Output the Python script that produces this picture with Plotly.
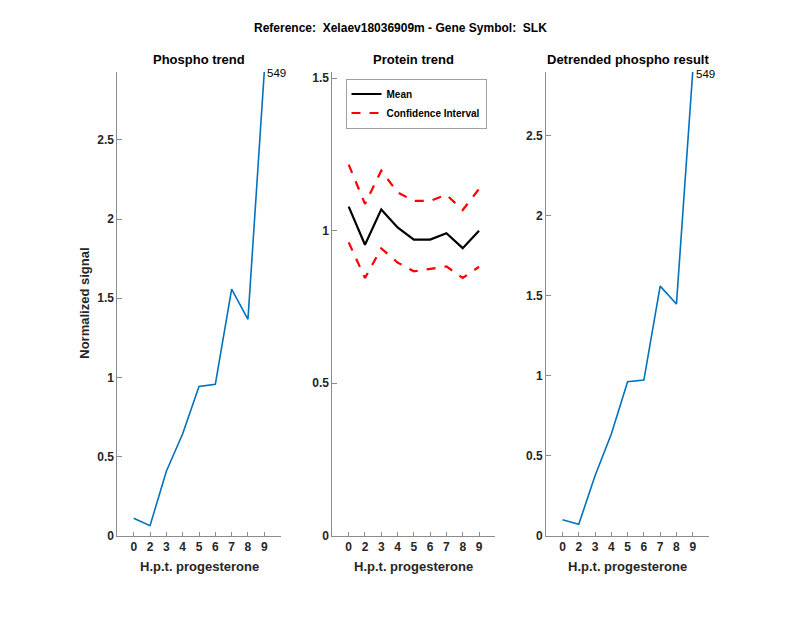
import plotly.graph_objects as go

# ---- data ----
hours = ["0", "2", "3", "4", "5", "6", "7", "8", "9"]
phospho = [0.11, 0.063, 0.407, 0.644, 0.943, 0.956, 1.557, 1.367, 2.93]
protein_mean = [1.079, 0.954, 1.070, 1.011, 0.971, 0.971, 0.992, 0.943, 1.000]
protein_upper = [1.217, 1.088, 1.197, 1.126, 1.098, 1.098, 1.118, 1.068, 1.137]
protein_lower = [0.962, 0.845, 0.942, 0.896, 0.867, 0.874, 0.883, 0.845, 0.882]
detrended = [0.10, 0.071, 0.375, 0.636, 0.963, 0.973, 1.56, 1.448, 2.90]
peptide_label = "549"

main_title = "Reference:  Xelaev18036909m - Gene Symbol:  SLK"
panel_titles = ["Phospho trend", "Protein trend", "Detrended phospho result"]
xlabel = "H.p.t. progesterone"
ylabel = "Normalized signal"

W, H = 800, 618
H_EFF = 611  # effective rendered height observed in the viewer
BLUE = "#0072BD"
TXT = "#262626"
AX = "#8c8c8c"
FONT = "Liberation Sans"

def px_x(p):
    return p / W

def px_y(p):
    return 1 - p / H_EFF

xdoms = [[px_x(117.4), px_x(280.6)], [px_x(332.4), px_x(495.3)], [px_x(546.2), px_x(709.0)]]
ydom = [px_y(535.7), px_y(71.8)]

fig = go.Figure()

fig.add_trace(go.Scatter(x=hours, y=phospho, mode="lines", line=dict(color=BLUE, width=1.6),
                         xaxis="x", yaxis="y", showlegend=False))
fig.add_trace(go.Scatter(x=hours, y=protein_mean, mode="lines", name="Mean",
                         line=dict(color="black", width=2.2), xaxis="x2", yaxis="y2"))
fig.add_trace(go.Scatter(x=hours, y=protein_upper, mode="lines", name="Confidence Interval",
                         line=dict(color="#FF0000", width=2.2, dash="dash"), xaxis="x2", yaxis="y2"))
fig.add_trace(go.Scatter(x=hours, y=protein_lower, mode="lines", name="Confidence Interval",
                         line=dict(color="#FF0000", width=2.2, dash="dash"), xaxis="x2", yaxis="y2",
                         showlegend=False))
fig.add_trace(go.Scatter(x=hours, y=detrended, mode="lines", line=dict(color=BLUE, width=1.6),
                         xaxis="x3", yaxis="y3", showlegend=False))

tickfont = dict(family=FONT, size=12, color=TXT, weight="bold")

def xaxis(dom, anchor):
    return dict(domain=dom, anchor=anchor, type="category", categoryorder="array",
                categoryarray=hours, range=[-1, len(hours)], showline=True, linecolor=AX,
                linewidth=1, ticks="inside", ticklen=4, tickcolor=AX, showgrid=False,
                zeroline=False, tickfont=tickfont, fixedrange=True)

def yaxis(anchor, rng):
    return dict(domain=ydom, anchor=anchor, range=rng, dtick=0.5, showline=True, linecolor=AX,
                linewidth=1, ticks="inside", ticklen=5, tickcolor=AX, showgrid=False,
                zeroline=False, tickfont=tickfont, fixedrange=True)

fig.update_layout(
    width=W, height=H, margin=dict(l=0, r=0, t=0, b=0),
    paper_bgcolor="white", plot_bgcolor="white",
    font=dict(family=FONT, color=TXT),
    xaxis=xaxis(xdoms[0], "y"),
    xaxis2=xaxis(xdoms[1], "y2"),
    xaxis3=xaxis(xdoms[2], "y3"),
    yaxis=yaxis("x", [0, max(phospho)]),
    yaxis2=yaxis("x2", [0, max(protein_upper) * 1.25]),
    yaxis3=yaxis("x3", [0, max(detrended)]),
    legend=dict(x=px_x(345.5), y=px_y(78.5), xanchor="left", yanchor="top",
                bgcolor="white", bordercolor="#a0a0a0", borderwidth=1,
                font=dict(family=FONT, size=10, color="black", weight="bold"),
                tracegroupgap=0, itemwidth=30),
    showlegend=True,
)

ann = []
ann.append(dict(text=main_title, x=0.5, y=px_y(28), xref="paper", yref="paper",
                showarrow=False, xanchor="center", yanchor="middle",
                font=dict(family=FONT, size=12, color="black", weight="bold")))
for dom, t in zip(xdoms, panel_titles):
    ann.append(dict(text=t, x=(dom[0] + dom[1]) / 2, y=px_y(59), xref="paper", yref="paper",
                    showarrow=False, xanchor="center", yanchor="middle",
                    font=dict(family=FONT, size=13, color="black", weight="bold")))
    ann.append(dict(text=xlabel, x=(dom[0] + dom[1]) / 2, y=px_y(566), xref="paper", yref="paper",
                    showarrow=False, xanchor="center", yanchor="middle",
                    font=dict(family=FONT, size=13, color=TXT, weight="bold")))
ann.append(dict(text=ylabel, x=px_x(85), y=(ydom[0] + ydom[1]) / 2, xref="paper", yref="paper",
                showarrow=False, textangle=-90, xanchor="center", yanchor="middle",
                font=dict(family=FONT, size=13, color=TXT, weight="bold")))
last = len(hours) - 1
ann.append(dict(text=peptide_label, x=last, y=phospho[-1], xref="x", yref="y",
                showarrow=False, xanchor="left", yanchor="middle", xshift=1, yshift=-1,
                font=dict(family=FONT, size=11.5, color="black")))
ann.append(dict(text=peptide_label, x=last, y=detrended[-1], xref="x3", yref="y3",
                showarrow=False, xanchor="left", yanchor="middle", xshift=1, yshift=-2,
                font=dict(family=FONT, size=11.5, color="black")))
fig.update_layout(annotations=ann)

fig.write_html("out.html", config={"displayModeBar": False},
               post_script="document.body.style.margin='0';")
